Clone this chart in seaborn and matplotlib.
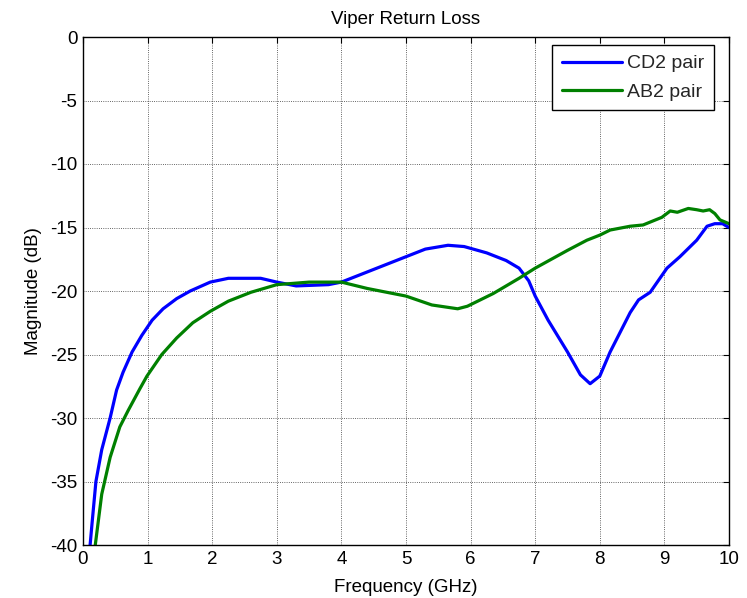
import matplotlib
matplotlib.use("Agg")
import matplotlib.pyplot as plt
import seaborn as sns
import pandas as pd

cd2_freq = [0.11, 0.14, 0.2, 0.29, 0.42, 0.52, 0.62, 0.76, 0.91, 1.07, 1.24, 1.45, 1.66, 1.97, 2.25,
            2.75, 3.0, 3.3, 3.8, 4.0, 4.3, 4.65, 5.0, 5.3, 5.65, 5.9, 6.25, 6.55, 6.75, 6.9, 7.0,
            7.2, 7.5, 7.7, 7.85, 8.0, 8.16, 8.47, 8.6, 8.78, 9.04, 9.24, 9.5, 9.66, 9.78, 9.9, 10.0]
cd2_db = [-40, -38.3, -35, -32.5, -30, -27.8, -26.4, -24.8, -23.5, -22.3, -21.4, -20.6, -20.0,
          -19.3, -19.0, -19.0, -19.3, -19.6, -19.5, -19.3, -18.7, -18.0, -17.3, -16.7, -16.4,
          -16.5, -17.0, -17.6, -18.2, -19.2, -20.4, -22.3, -24.8, -26.6, -27.3, -26.7, -24.8,
          -21.7, -20.7, -20.1, -18.2, -17.3, -16.0, -14.9, -14.7, -14.7, -15.0]

ab2_freq = [0.19, 0.29, 0.42, 0.57, 0.7, 0.88, 0.99, 1.22, 1.45, 1.7, 1.97, 2.25, 2.6, 3.0, 3.5,
            4.0, 4.4, 5.0, 5.4, 5.8, 5.95, 6.35, 6.75, 7.0, 7.5, 7.8, 8.0, 8.16, 8.47, 8.67, 8.96,
            9.09, 9.2, 9.37, 9.5, 9.6, 9.7, 9.78, 9.86, 10.0]
ab2_db = [-40, -36, -33.1, -30.7, -29.4, -27.7, -26.7, -25.0, -23.7, -22.5, -21.6, -20.8, -20.1,
          -19.5, -19.3, -19.3, -19.8, -20.4, -21.1, -21.4, -21.2, -20.2, -19.0, -18.2, -16.8,
          -16.0, -15.6, -15.2, -14.9, -14.8, -14.2, -13.7, -13.8, -13.5, -13.6, -13.7, -13.6,
          -13.9, -14.4, -14.7]

series_names = ["CD2 pair", "AB2 pair"]
x_ticks = list(range(0, 11))
y_ticks = list(range(-40, 1, 5))

df = pd.concat([
    pd.DataFrame({"freq": cd2_freq, "db": cd2_db, "series": series_names[0]}),
    pd.DataFrame({"freq": ab2_freq, "db": ab2_db, "series": series_names[1]}),
], ignore_index=True)

sns.set_theme(style="white")
plt.rcParams["font.family"] = ["Liberation Sans", "DejaVu Sans"]

fig = plt.figure(figsize=(7.47, 5.98), dpi=100)
ax = fig.add_axes([83 / 747, 1 - 545 / 598, (729 - 83) / 747, (545 - 37) / 598])

sns.lineplot(data=df, x="freq", y="db", hue="series", sort=False, estimator=None,
             palette={series_names[0]: "#0000ff", series_names[1]: "#008000"},
             linewidth=2.3, ax=ax)

ax.set_xlim(0, 10)
ax.set_ylim(-40, 0)
ax.set_xticks(x_ticks)
ax.set_yticks(y_ticks)
ax.set_xticklabels([str(t) for t in x_ticks])
ax.set_yticklabels([str(t) for t in y_ticks])
ax.grid(True, linestyle=":", color="black", linewidth=0.6, alpha=0.8)
ax.tick_params(direction="in", top=True, right=True, length=4, width=0.8,
               labelsize=13.5, colors="black", pad=4)
for s in ax.spines.values():
    s.set_color("black")
    s.set_linewidth(1.0)

ax.set_xlabel("Frequency (GHz)", fontsize=13.5, color="black", labelpad=8)
ax.set_ylabel("Magnitude (dB)", fontsize=13.5, color="black", labelpad=6)
ax.set_title("Viper Return Loss", fontsize=13.5, color="black", pad=9)

leg = ax.legend(loc="upper right", bbox_to_anchor=((714 - 83) / 646, (545 - 45) / 508),
                borderaxespad=0, fancybox=False, framealpha=1, edgecolor="black",
                fontsize=14, handlelength=3.1, handletextpad=0.25, borderpad=0.5,
                labelspacing=0.55, title=None)
leg.get_frame().set_linewidth(1.0)

fig.savefig("out.png", dpi=100)
